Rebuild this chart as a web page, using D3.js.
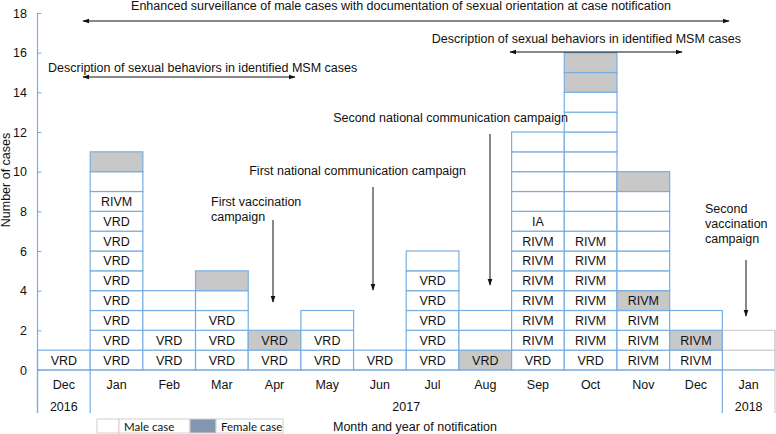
<!DOCTYPE html>
<html>
<head>
<meta charset="utf-8">
<script src="https://cdn.jsdelivr.net/npm/d3@7"></script>
<style>
  body { margin: 0; background: #fff; }
  text { font-family: "Liberation Sans", Arial, sans-serif; fill: #111; }
  .legendText { font-family: Lato, "Open Sans", sans-serif; font-size: 11.5px; }
</style>
</head>
<body>
<div id="chart"></div>
<script>
// Month columns and the year they belong to
var months = ["Dec", "Jan", "Feb", "Mar", "Apr", "May", "Jun", "Jul", "Aug", "Sep", "Oct", "Nov", "Dec", "Jan"];
var years = ["2016", "2017", "2017", "2017", "2017", "2017", "2017", "2017", "2017", "2017", "2017", "2017", "2017", "2018"];

// One entry per case, stacked from the bottom; the text is the lab that typed it
var caseLabels = [
  ["VRD"],
  ["VRD", "VRD", "VRD", "VRD", "VRD", "VRD", "VRD", "VRD", "RIVM", "", ""],
  ["VRD", "VRD", "", ""],
  ["VRD", "VRD", "VRD", "", ""],
  ["VRD", "VRD"],
  ["VRD", "VRD", ""],
  ["VRD"],
  ["VRD", "VRD", "VRD", "VRD", "VRD", ""],
  ["VRD", "", ""],
  ["VRD", "RIVM", "RIVM", "RIVM", "RIVM", "RIVM", "RIVM", "IA", "", "", "", ""],
  ["VRD", "RIVM", "RIVM", "RIVM", "RIVM", "RIVM", "RIVM", "", "", "", "", "", "", "", "", ""],
  ["RIVM", "RIVM", "RIVM", "RIVM", "", "", "", "", "", ""],
  ["RIVM", "RIVM", ""],
  ["", ""]
];

// Position in the stack of the female cases, per month
var femaleCases = [[], [10], [], [4], [1], [], [], [], [0], [], [14, 15], [3, 9], [1], []];

// Months whose cases were still provisional (grey outline)
var provisionalMonths = [13];

var yTicks = [0, 2, 4, 6, 8, 10, 12, 14, 16, 18];

var svgWidth = 776;
var svgHeight = 434;
var blue = "#78aee0";
var grey = "#c8c8c8";

var svg = d3.select("#chart")
  .append("svg")
  .attr("width", svgWidth)
  .attr("height", svgHeight);

var x = d3.scaleBand()
  .domain(d3.range(months.length))
  .range([37.5, 775])
  .paddingInner(0)
  .paddingOuter(0);

var y = d3.scaleLinear()
  .domain([0, 18])
  .range([370, 13]);

// Flatten into cells
var cells = [];
caseLabels.forEach(function(col, i) {
  col.forEach(function(label, j) {
    cells.push({
      month: i,
      level: j,
      label: label,
      female: femaleCases[i].indexOf(j) >= 0,
      provisional: provisionalMonths.indexOf(i) >= 0
    });
  });
});

var cellGroup = svg.append("g");

// provisional cells first so the blue borders sit on top
cells.sort(function(a, b) { return (b.provisional ? 1 : 0) - (a.provisional ? 1 : 0); });

cellGroup.selectAll("rect")
  .data(cells)
  .enter()
  .append("rect")
  .attr("x", d => x(d.month))
  .attr("y", d => y(d.level + 1))
  .attr("width", x.bandwidth())
  .attr("height", y(0) - y(1))
  .attr("fill", d => d.female ? grey : "#fff")
  .attr("stroke", d => d.provisional ? "#cfcfcf" : blue)
  .attr("stroke-width", 1.2);

cellGroup.selectAll("text")
  .data(cells.filter(d => d.label !== ""))
  .enter()
  .append("text")
  .attr("x", d => x(d.month) + x.bandwidth() / 2)
  .attr("y", d => y(d.level + 0.5) + 4.5)
  .attr("text-anchor", "middle")
  .style("font-size", "12.5px")
  .text(d => d.label);

// Baseline and the table under it
svg.append("line")
  .attr("x1", x(0)).attr("x2", x(13) + x.bandwidth())
  .attr("y1", y(0)).attr("y2", y(0))
  .attr("stroke", blue).attr("stroke-width", 1.2);

var yearBreaks = [0, 1, 13, 14];
svg.selectAll(".yearLine")
  .data(yearBreaks)
  .enter()
  .append("line")
  .attr("class", "yearLine")
  .attr("x1", d => d < 14 ? x(d) : x(13) + x.bandwidth())
  .attr("x2", d => d < 14 ? x(d) : x(13) + x.bandwidth())
  .attr("y1", d => d === 14 ? y(2) : y(0))
  .attr("y2", 413)
  .attr("stroke", d => d === 14 ? "#cfcfcf" : blue)
  .attr("stroke-width", 1.2);

svg.selectAll(".month")
  .data(months)
  .enter()
  .append("text")
  .attr("class", "month")
  .attr("x", (d, i) => x(i) + x.bandwidth() / 2)
  .attr("y", 389)
  .attr("text-anchor", "middle")
  .style("font-size", "12.5px")
  .text(d => d);

var yearGroups = d3.groups(years.map((d, i) => ({ year: d, i: i })), d => d.year);
svg.selectAll(".year")
  .data(yearGroups)
  .enter()
  .append("text")
  .attr("class", "year")
  .attr("x", d => (x(d[1][0].i) + x(d[1][d[1].length - 1].i) + x.bandwidth()) / 2)
  .attr("y", 411)
  .attr("text-anchor", "middle")
  .style("font-size", "12.5px")
  .text(d => d[0]);

// Y axis
var leftAxis = d3.axisRight(y).tickValues(yTicks).tickSize(4).tickFormat("");
var axisG = svg.append("g")
  .attr("transform", `translate(${x(0)}, 0)`)
  .call(leftAxis);
axisG.select(".domain").remove();
axisG.selectAll("line").attr("stroke", blue);
svg.append("line")
  .attr("x1", x(0)).attr("x2", x(0))
  .attr("y1", y(18)).attr("y2", 413)
  .attr("stroke", blue).attr("stroke-width", 1.2);

svg.selectAll(".ytick")
  .data(yTicks)
  .enter()
  .append("text")
  .attr("class", "ytick")
  .attr("x", 27)
  .attr("y", d => y(d) + 4.5)
  .attr("text-anchor", "end")
  .style("font-size", "12.5px")
  .text(d => d);

svg.append("text")
  .attr("transform", "translate(10, 180) rotate(-90)")
  .attr("text-anchor", "middle")
  .style("font-size", "12.5px")
  .text("Number of cases");

// Arrow markers
var defs = svg.append("defs");
defs.append("marker")
  .attr("id", "head")
  .attr("viewBox", "0 0 10 10")
  .attr("refX", 9).attr("refY", 5)
  .attr("markerWidth", 7).attr("markerHeight", 7)
  .attr("orient", "auto-start-reverse")
  .append("path")
  .attr("d", "M0,1.5 L10,5 L0,8.5 Z")
  .attr("fill", "#111");

// Annotations: periods (double arrows) and campaigns (down arrows)
var periods = [
  { x1: 83, x2: 729, y: 21 },
  { x1: 83, x2: 295, y: 77 },
  { x1: 510, x2: 682, y: 52 }
];
svg.selectAll(".period")
  .data(periods)
  .enter()
  .append("line")
  .attr("x1", d => d.x1).attr("x2", d => d.x2)
  .attr("y1", d => d.y).attr("y2", d => d.y)
  .attr("stroke", "#111").attr("stroke-width", 1)
  .attr("marker-start", "url(#head)")
  .attr("marker-end", "url(#head)");

var campaigns = [
  { x: 273, y1: 220, y2: 302 },
  { x: 373, y1: 187, y2: 290 },
  { x: 490, y1: 134, y2: 285 },
  { x: 746, y1: 260, y2: 316 }
];
svg.selectAll(".campaign")
  .data(campaigns)
  .enter()
  .append("line")
  .attr("x1", d => d.x).attr("x2", d => d.x)
  .attr("y1", d => d.y1).attr("y2", d => d.y2)
  .attr("stroke", "#111").attr("stroke-width", 1)
  .attr("marker-end", "url(#head)");

var notes = [
  { x: 401, y: 10, anchor: "middle", lines: ["Enhanced surveillance of male cases with documentation of sexual orientation at case notification"] },
  { x: 48, y: 72, anchor: "start", lines: ["Description of sexual behaviors in identified MSM cases"] },
  { x: 741, y: 43, anchor: "end", lines: ["Description of sexual behaviors in identified MSM cases"] },
  { x: 568, y: 122, anchor: "end", lines: ["Second national communication campaign"] },
  { x: 466, y: 175, anchor: "end", lines: ["First national communication campaign"] },
  { x: 211, y: 206, anchor: "start", lines: ["First vaccination", "campaign"] },
  { x: 705, y: 213, anchor: "start", lines: ["Second", "vaccination", "campaign"] }
];
notes.forEach(function(n) {
  var t = svg.append("text")
    .attr("x", n.x).attr("y", n.y)
    .attr("text-anchor", n.anchor)
    .style("font-size", "12.5px");
  n.lines.forEach(function(line, i) {
    t.append("tspan").attr("x", n.x).attr("dy", i === 0 ? 0 : 15).text(line);
  });
});

// Legend
var legend = [
  { x: 97, w: 22, fill: "#fff", text: "" },
  { x: 119, w: 71, fill: "#fff", text: "Male case" },
  { x: 190, w: 26, fill: "#8497b0", text: "" },
  { x: 216, w: 67, fill: "#fff", text: "Female case" }
];
svg.selectAll(".legendBox")
  .data(legend)
  .enter()
  .append("rect")
  .attr("x", d => d.x).attr("y", 419)
  .attr("width", d => d.w).attr("height", 14)
  .attr("fill", d => d.fill)
  .attr("stroke", "#d0d0d0");
svg.selectAll(".legendText")
  .data(legend.filter(d => d.text))
  .enter()
  .append("text")
  .attr("class", "legendText")
  .attr("x", d => d.x + 5).attr("y", 430.5)
  .text(d => d.text);

svg.append("text")
  .attr("x", 333).attr("y", 431)
  .style("font-size", "12.5px")
  .text("Month and year of notification");
</script>
</body>
</html>
